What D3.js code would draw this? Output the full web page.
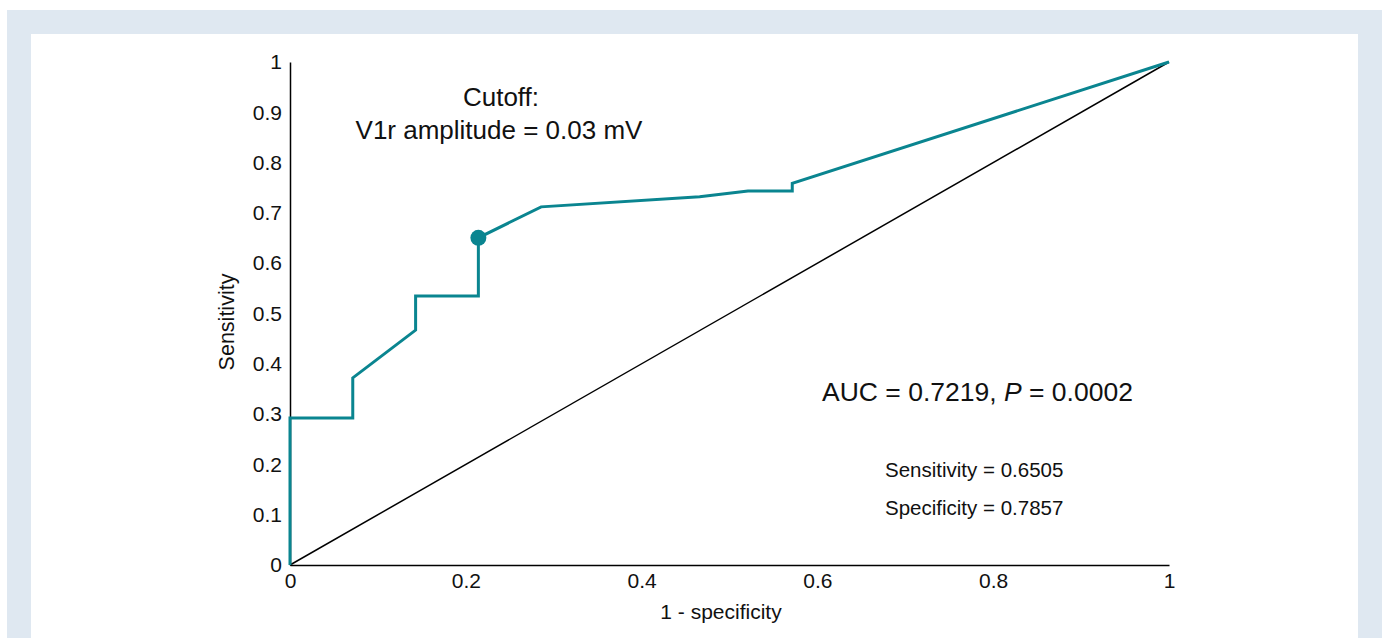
<!DOCTYPE html>
<html>
<head>
<meta charset="utf-8">
<script src="https://cdn.jsdelivr.net/npm/d3@7"></script>
<style>
  body { margin: 0; background: #fff; }
  svg text { font-family: "Liberation Sans", Arial, sans-serif; fill: #111; }
</style>
</head>
<body>
<div id="roc"></div>
<script>
// ROC curve values
const fpr = [0, 0, 0.0714, 0.0714, 0.1429, 0.1429, 0.2143, 0.2143, 0.2857, 0.466, 0.521, 0.5714, 0.5714, 1];
const tpr = [0, 0.292, 0.292, 0.372, 0.467, 0.535, 0.535, 0.6505, 0.712, 0.732, 0.7436, 0.7436, 0.759, 1];
const cutoffPoint = [0.2143, 0.6505];
const xTicks = [0, 0.2, 0.4, 0.6, 0.8, 1];
const yTicks = [0, 0.1, 0.2, 0.3, 0.4, 0.5, 0.6, 0.7, 0.8, 0.9, 1];

const width = 1386, height = 638;
const teal = "#0a8590";

const svg = d3.select("#roc").append("svg")
  .attr("width", width)
  .attr("height", height);

// frame
svg.append("rect").attr("x", 7).attr("y", 10).attr("width", 1375).attr("height", 628).attr("fill", "#dfe8f1");
svg.append("rect").attr("x", 31).attr("y", 34).attr("width", 1327).attr("height", 604).attr("fill", "#fff");

const x = d3.scaleLinear().domain([0, 1]).range([290, 1169]);
const y = d3.scaleLinear().domain([0, 1]).range([565, 62]);

// axes (no tick marks, just the line and labels)
const xAxis = svg.append("g")
  .attr("transform", `translate(0,${y(0)})`)
  .call(d3.axisBottom(x).tickValues(xTicks).tickSize(0).tickPadding(8).tickFormat(d3.format("")));
const yAxis = svg.append("g")
  .attr("transform", `translate(${x(0)},0)`)
  .call(d3.axisLeft(y).tickValues(yTicks).tickSize(0).tickPadding(8).tickFormat(d3.format("")));

[xAxis, yAxis].forEach(g => {
  g.select(".domain").attr("stroke", "#000").attr("stroke-width", 1.5);
  g.selectAll("text").style("font-size", "21px");
});

// reference diagonal
svg.append("line")
  .attr("x1", x(0)).attr("y1", y(0)).attr("x2", x(1)).attr("y2", y(1))
  .attr("stroke", "#000").attr("stroke-width", 1.5);

// roc curve
const pts = fpr.map((f, i) => [f, tpr[i]]);
svg.append("path")
  .datum(pts)
  .attr("fill", "none")
  .attr("stroke", teal)
  .attr("stroke-width", 3)
  .attr("d", d3.line().x(d => x(d[0])).y(d => y(d[1])));

svg.append("circle")
  .attr("cx", x(cutoffPoint[0])).attr("cy", y(cutoffPoint[1]))
  .attr("r", 8).attr("fill", teal);

// labels
const txt = (tx, ty, s, size, anchor) => svg.append("text")
  .attr("x", tx).attr("y", ty).style("font-size", size).attr("text-anchor", anchor || "start")
  .text(s);

txt(501, 106, "Cutoff:", "26px", "middle");
txt(499, 139, "V1r amplitude = 0.03 mV", "26px", "middle");

const auc = svg.append("text").attr("x", 822).attr("y", 401).style("font-size", "26.5px");
auc.append("tspan").text("AUC = 0.7219, ");
auc.append("tspan").attr("font-style", "italic").text("P");
auc.append("tspan").text(" = 0.0002");

txt(885, 477, "Sensitivity = 0.6505", "20.5px");
txt(885, 515, "Specificity = 0.7857", "20.5px");

txt(721, 619, "1 - specificity", "21px", "middle");
svg.append("text")
  .attr("transform", `translate(234,322) rotate(-90)`)
  .attr("text-anchor", "middle").style("font-size", "21.5px")
  .text("Sensitivity");
</script>
</body>
</html>
